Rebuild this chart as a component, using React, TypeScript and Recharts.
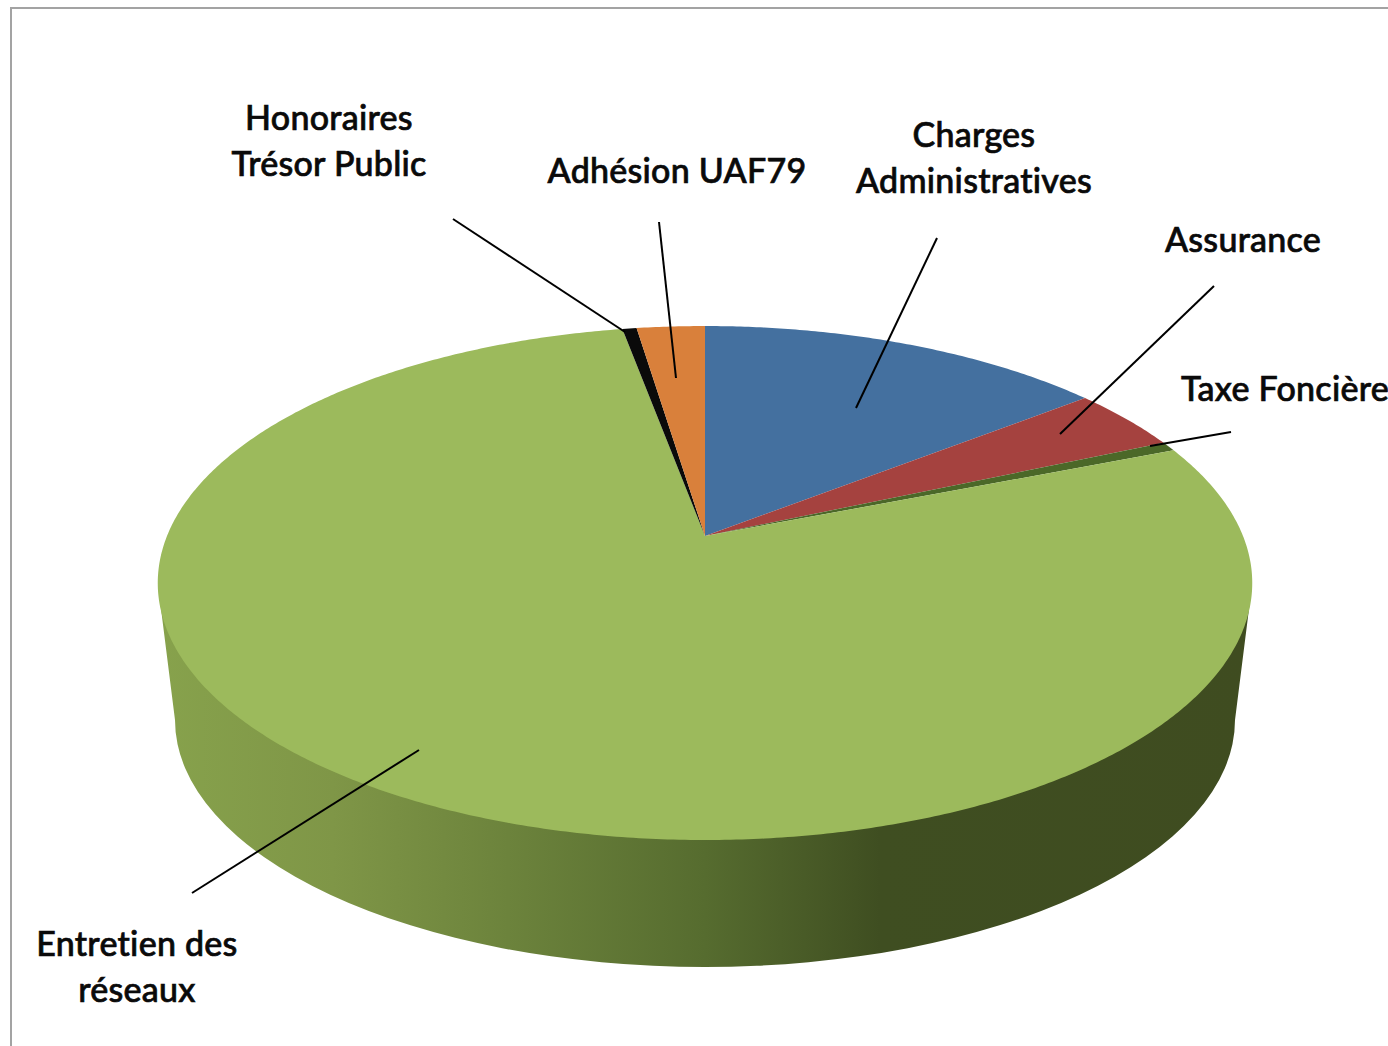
import React from "react";
import { PieChart, Pie, Cell } from "recharts";

const categories = ["Charges Administratives", "Assurance", "Taxe Foncière", "Entretien des réseaux", "Honoraires Trésor Public", "Adhésion UAF79"];
const values = [14.4, 4.0, 0.6, 78.1, 0.5, 2.4];
const colors = ["#44709f", "#a5423f", "#4b6828", "#9cba5c", "#0a0a0a", "#d9803b"];

const W = 1388;
const H = 1046;
// projection of the tilted disc
const APEX_X = 705;
const APEX_Y = 536;
const KP = 0.183;
const AY = 248.4;
const BX = 538;
const FONT = "Lato, Carlito, sans-serif";

const labelLayouts = [
  { lines: ["Charges", "Administratives"], x: 974, y: 147, line: [937, 238, 856, 408] },
  { lines: ["Assurance"], x: 1243, y: 252, line: [1214, 286, 1060, 434] },
  { lines: ["Taxe Foncière"], x: 1285, y: 401, line: [1231, 432, 1150, 446] },
  { lines: ["Entretien des", "réseaux"], x: 137, y: 956, line: [192, 893, 419, 750] },
  { lines: ["Honoraires", "Trésor Public"], x: 329, y: 130, line: [453, 219, 625, 332] },
  { lines: ["Adhésion UAF79"], x: 677, y: 183, line: [659, 222, 676, 378] },
];

const data = categories.map((name, i) => ({ name, value: values[i] }));

function project(angleDeg: number) {
  const t = ((90 - angleDeg) * Math.PI) / 180;
  const u = Math.sin(t);
  const v = Math.cos(t);
  const w = 1 + KP * v;
  return [APEX_X + (BX * u) / w, APEX_Y - (AY * v) / w];
}

function Wedge(props: any) {
  const { startAngle, endAngle, fill, index } = props;
  const pts: string[] = [`M${APEX_X} ${APEX_Y}`];
  const n = Math.max(2, Math.ceil(Math.abs(endAngle - startAngle) * 2));
  for (let i = 0; i <= n; i++) {
    const [x, y] = project(startAngle + ((endAngle - startAngle) * i) / n);
    pts.push(`L${x.toFixed(2)} ${y.toFixed(2)}`);
  }
  pts.push("Z");
  const isMain = index === 3;
  return (
    <g>
      {isMain && (
        <>
          <defs>
            <linearGradient id="sideGrad" gradientUnits="userSpaceOnUse" x1="158" y1="0" x2="1252" y2="0">
              <stop offset="0" stopColor="#87a24c" />
              <stop offset="0.16" stopColor="#7f9647" />
              <stop offset="0.32" stopColor="#6c833c" />
              <stop offset="0.5" stopColor="#566c2f" />
              <stop offset="0.66" stopColor="#3f4e21" />
              <stop offset="1" stopColor="#3f4c20" />
            </linearGradient>
          </defs>
          <path d="M158 585 L175 720 A530 247 0 0 0 1235 720 L1252 585 Z" fill="url(#sideGrad)" />
        </>
      )}
      <path d={pts.join(" ")} fill={fill} />
    </g>
  );
}

function renderLabel(props: any) {
  const l = labelLayouts[props.index];
  return (
    <g key={props.index}>
      <line x1={l.line[0]} y1={l.line[1]} x2={l.line[2]} y2={l.line[3]} stroke="#000" strokeWidth={2} />
      {l.lines.map((s, i) => (
        <text
          key={s}
          x={l.x}
          y={l.y + i * 46}
          textAnchor="middle"
          fontFamily={FONT}
          fontSize={34}
          fontWeight={500}
          fill="#0a0a0a"
          stroke="#0a0a0a"
          strokeWidth={0.7}
          style={{ fontVariantLigatures: "none", letterSpacing: "0.25px" }}
        >
          {s}
        </text>
      ))}
    </g>
  );
}

export default function App() {
  return (
    <div style={{ position: "absolute", left: 0, top: 0, width: W, height: H, background: "#fff", overflow: "hidden" }}>
      <div style={{ position: "absolute", left: 10, top: 7, right: 0, bottom: 0, borderLeft: "2px solid #a3a3a3", borderTop: "2px solid #a3a3a3" }} />
      <div style={{ position: "absolute", left: 0, top: 0 }}>
        <PieChart width={W} height={H} margin={{ top: 0, right: 0, bottom: 0, left: 0 }}>
          <Pie
            data={data}
            dataKey="value"
            nameKey="name"
            cx={APEX_X}
            cy={APEX_Y}
            outerRadius={300}
            startAngle={90}
            endAngle={-270}
            stroke="none"
            isAnimationActive={false}
            shape={Wedge}
            label={renderLabel}
            labelLine={false}
          >
            {data.map((d, i) => (
              <Cell key={d.name} fill={colors[i]} />
            ))}
          </Pie>
        </PieChart>
      </div>
    </div>
  );
}
